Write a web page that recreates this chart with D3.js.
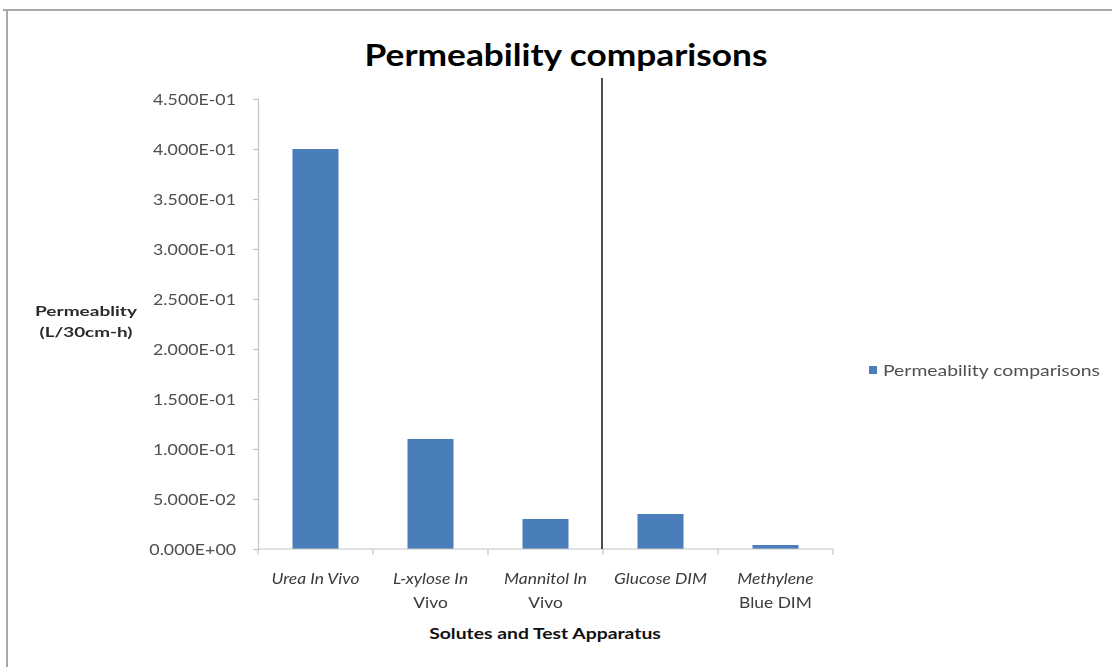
<!DOCTYPE html>
<html>
<head>
<meta charset="utf-8">
<script src="https://cdn.jsdelivr.net/npm/d3@7"></script>
<style>
  body { margin: 0; background: #fff; }
  svg { display: block; }
  text { font-family: Lato, "Open Sans", sans-serif; }
</style>
</head>
<body>
<svg id="chart" width="1112" height="667"></svg>
<script>
// Solutes / apparatus and their measured permeability (L/30cm-h)
const categories = ["Urea In Vivo", "L-xylose In Vivo", "Mannitol In Vivo", "Glucose DIM", "Methylene Blue DIM"];
const categoryLines = [["Urea In Vivo"], ["L-xylose In", "Vivo"], ["Mannitol In", "Vivo"], ["Glucose DIM"], ["Methylene", "Blue DIM"]];
const permeability = [0.40, 0.11, 0.030, 0.035, 0.004];
const yTicks = [0, 0.05, 0.10, 0.15, 0.20, 0.25, 0.30, 0.35, 0.40, 0.45];
const seriesName = "Permeability comparisons";
const chartTitle = "Permeability comparisons";
const yTitleLines = ["Permeablity", "(L/30cm-h)"];
const xTitle = "Solutes and Test Apparatus";
// index of the first in-vitro (DIM) category; a divider separates the groups
const dividerBefore = 3;

const barColor = "#4a7ebb";
const svg = d3.select("#chart");

// soft edge used on the lighter labels
const defs = svg.append("defs");
defs.append("filter").attr("id", "soft").attr("x", "-5%").attr("y", "-20%")
  .attr("width", "110%").attr("height", "140%")
  .append("feGaussianBlur").attr("stdDeviation", 0.45);

// width of a string at a given font, used to widen text to the layout
function measure(str, size, weight, italic) {
  const t = svg.append("text").attr("font-size", size).attr("font-weight", weight || "normal")
    .attr("font-style", italic ? "italic" : "normal").text(str);
  const w = t.node().getComputedTextLength();
  t.remove();
  return w;
}

function placeText(g, str, x, y, opts) {
  const t = g.append("text")
    .attr("text-anchor", opts.anchor || "middle")
    .attr("font-size", opts.size)
    .attr("font-weight", opts.weight || "normal")
    .attr("font-style", opts.italic ? "italic" : "normal")
    .attr("fill", opts.fill || "#000")
    .text(str);
  const w = t.node().getComputedTextLength();
  const sx = opts.width ? opts.width / w : (opts.sx || 1);
  t.attr("transform", `translate(${x},${y}) scale(${sx},1)`);
  if (opts.soft) t.attr("filter", "url(#soft)");
  return t;
}

// outer frame (top and left edges)
svg.append("path")
  .attr("d", "M3,10H1112M7,10V667")
  .attr("fill", "none").attr("stroke", "#a8a8a8").attr("stroke-width", 2);

const x = d3.scaleBand().domain(categories).range([258, 833]).paddingInner(0.6).paddingOuter(0.3);
const y = d3.scaleLinear().domain([0, 0.45]).range([549, 99]);

// scientific tick labels, e.g. 4.500E-01
function sci(v) {
  const [m, e] = v.toExponential(3).split("e");
  const sign = e[0] === "-" ? "-" : "+";
  const digits = e.replace(/[+-]/, "").padStart(2, "0");
  return `${m}E${sign}${digits}`;
}

// y axis
const yAxis = svg.append("g").attr("transform", "translate(258,0)")
  .call(d3.axisLeft(y).tickValues(yTicks).tickSize(5).tickPadding(17).tickFormat(sci));
yAxis.select(".domain").attr("stroke", "#c4c4c4").attr("stroke-width", 1.2);
yAxis.selectAll(".tick line").attr("stroke", "#c4c4c4").attr("stroke-width", 1.2);
yAxis.selectAll(".tick text").remove();
const tickSize = 15.5;
const ySx = 83 / measure("4.000E-01", tickSize);
yAxis.selectAll(".tick").each(function (d) {
  placeText(d3.select(this), sci(d), -22, 5.5, { anchor: "end", size: tickSize, fill: "#505050", sx: ySx, soft: true });
});

// bars
svg.append("g").selectAll("rect")
  .data(categories)
  .join("rect")
  .attr("x", d => x(d))
  .attr("width", x.bandwidth())
  .attr("y", (d, i) => y(permeability[i]))
  .attr("height", (d, i) => y(0) - y(permeability[i]))
  .attr("fill", barColor);

// x axis line with tick marks on the category boundaries
const [x0, x1] = x.range();
const bounds = d3.range(categories.length + 1).map(i => x0 + i * x.step());
const xAxis = svg.append("g");
xAxis.append("line").attr("x1", x0).attr("x2", x1).attr("y1", y(0)).attr("y2", y(0))
  .attr("stroke", "#c4c4c4").attr("stroke-width", 1.2);
xAxis.selectAll(".bound").data(bounds).join("line")
  .attr("x1", d => d).attr("x2", d => d).attr("y1", y(0)).attr("y2", y(0) + 6)
  .attr("stroke", "#c4c4c4").attr("stroke-width", 1.2);

// divider between in-vivo and DIM results
const divX = bounds[dividerBefore] - 1;
svg.append("line").attr("x1", divX).attr("x2", divX).attr("y1", 78).attr("y2", y(0))
  .attr("stroke", "#222").attr("stroke-width", 1.6);

// category labels
const catG = svg.append("g");
const catSize = 15.5;
const catSx = 88 / measure("Urea In Vivo", catSize, "normal", true);
categories.forEach((c, i) => {
  const cx = x(c) + x.bandwidth() / 2;
  categoryLines[i].forEach((line, j) => {
    placeText(catG, line, cx, 584 + j * 24, { size: catSize, fill: "#3a3a3a", italic: j === 0, sx: catSx, soft: true });
  });
});

// titles
placeText(svg, chartTitle, 566, 66, { size: 31, weight: "bold", width: 403 });
yTitleLines.forEach((line, j) => {
  placeText(svg, line, 86, 316 + j * 21, { size: 14, weight: "bold", fill: "#2a2a2a", width: j === 0 ? 102 : 93, soft: true });
});
placeText(svg, xTitle, 545, 639, { size: 15.5, weight: "bold", fill: "#111", width: 232 });

// legend
const leg = svg.append("g");
leg.append("rect").attr("x", 869).attr("y", 366).attr("width", 8).attr("height", 8).attr("fill", barColor);
placeText(leg, seriesName, 883, 376, { anchor: "start", size: 15, fill: "#505050", width: 217, soft: true });
</script>
</body>
</html>
